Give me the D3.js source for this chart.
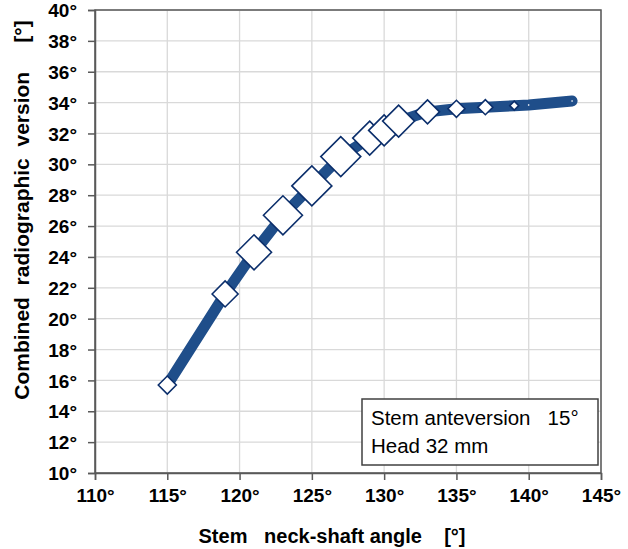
<!DOCTYPE html>
<html>
<head>
<meta charset="utf-8">
<script src="https://cdn.jsdelivr.net/npm/d3@7"></script>
<style>
  body { margin: 0; background: #fff; }
  svg { display: block; font-family: "Liberation Sans", Arial, sans-serif; }
</style>
</head>
<body>
<svg width="628" height="549"></svg>
<script>
//data
const neckShaftAngle = [115, 119, 121, 123, 125, 127, 129, 130, 131, 133, 135, 137, 139, 140, 143];
const combinedVersion = [15.7, 21.6, 24.3, 26.7, 28.6, 30.5, 31.7, 32.2, 32.8, 33.4, 33.6, 33.7, 33.8, 33.85, 34.1];
const pointWeight = [18, 26, 35, 39, 40, 40, 34, 31, 32, 24, 17, 15, 9, 2, 2];
const xTicks = [110, 115, 120, 125, 130, 135, 140, 145];
const yTicks = [10, 12, 14, 16, 18, 20, 22, 24, 26, 28, 30, 32, 34, 36, 38, 40];
const legendLines = ['Stem anteversion   15°', 'Head 32 mm'];

const points = neckShaftAngle.map((a, i) => ({ x: a, y: combinedVersion[i], w: pointWeight[i] }));

//set up
const svg = d3.select('svg');
const plotL = 95, plotR = 601, plotT = 10, plotB = 473;

const x = d3.scaleLinear().domain([110, 145]).range([plotL, plotR]);
const y = d3.scaleLinear().domain([10, 40]).range([plotB, plotT]);
const size = d3.scaleLinear().domain([0, 40]).range([0, 40]);

//grid
svg.append('g')
  .selectAll('line')
  .data(yTicks)
  .join('line')
  .attr('x1', plotL).attr('x2', plotR)
  .attr('y1', d => y(d)).attr('y2', d => y(d))
  .attr('stroke', '#d9d9d9').attr('stroke-width', 1.3);

svg.append('g')
  .selectAll('line')
  .data(xTicks)
  .join('line')
  .attr('x1', d => x(d)).attr('x2', d => x(d))
  .attr('y1', plotT).attr('y2', plotB)
  .attr('stroke', '#d9d9d9').attr('stroke-width', 1.3);

//plot border
svg.append('rect')
  .attr('x', plotL).attr('y', plotT)
  .attr('width', plotR - plotL).attr('height', plotB - plotT)
  .attr('fill', 'none').attr('stroke', '#595959').attr('stroke-width', 1.5);

//axes
const xAxis = svg.append('g')
  .attr('transform', `translate(0,${plotB})`)
  .call(d3.axisBottom(x).tickValues(xTicks).tickFormat(d => d + '°').tickSize(7).tickPadding(9));

const yAxis = svg.append('g')
  .attr('transform', `translate(${plotL},0)`)
  .call(d3.axisLeft(y).tickValues(yTicks).tickFormat(d => d + '°').tickSize(7).tickPadding(11));

[xAxis, yAxis].forEach(g => {
  g.select('.domain').attr('stroke', '#595959').attr('stroke-width', 1.5);
  g.selectAll('.tick line').attr('stroke', '#595959').attr('stroke-width', 1.5);
  g.selectAll('.tick text')
    .attr('fill', '#000')
    .style('font-family', '"Liberation Sans", Arial, sans-serif')
    .style('font-size', '19px')
    .style('font-weight', 'bold');
});
xAxis.selectAll('.tick text').attr('dy', '0.71em');
yAxis.selectAll('.tick text').attr('dy', '0.35em');

//line
const line = d3.line().x(d => x(d.x)).y(d => y(d.y));
svg.append('path')
  .datum(points)
  .attr('d', line)
  .attr('fill', 'none')
  .attr('stroke', '#1f4e8a')
  .attr('stroke-width', 11)
  .attr('stroke-linecap', 'round')
  .attr('stroke-linejoin', 'round');

//markers
svg.append('g')
  .selectAll('path')
  .data(points)
  .join('path')
  .attr('transform', d => `translate(${x(d.x)},${y(d.y)})`)
  .attr('d', d => {
    const r = size(d.w) / 2;
    return `M${-r},0L0,${-r}L${r},0L0,${r}Z`;
  })
  .attr('fill', '#fff')
  .attr('stroke', '#0b2e6b')
  .attr('stroke-width', d => d.w > 4 ? 1.6 : 0);

//axis titles
svg.append('text')
  .attr('x', 332).attr('y', 543)
  .attr('text-anchor', 'middle')
  .style('font-size', '20px').style('font-weight', 'bold')
  .style('white-space', 'pre')
  .text('Stem   neck-shaft angle    [°]');

svg.append('text')
  .attr('transform', 'translate(29,210) rotate(-90)')
  .attr('text-anchor', 'middle')
  .style('font-size', '21px').style('font-weight', 'bold')
  .style('white-space', 'pre')
  .text('Combined  radiographic  version     [°]');

//legend box
const legend = svg.append('g');
legend.append('rect')
  .attr('x', 362).attr('y', 399)
  .attr('width', 236).attr('height', 66)
  .attr('fill', '#fff').attr('stroke', '#404040').attr('stroke-width', 1.5);

legend.selectAll('text')
  .data(legendLines)
  .join('text')
  .attr('x', 371)
  .attr('y', (d, i) => 425 + i * 28)
  .style('font-size', '20.5px')
  .style('white-space', 'pre')
  .text(d => d);
</script>
</body>
</html>
